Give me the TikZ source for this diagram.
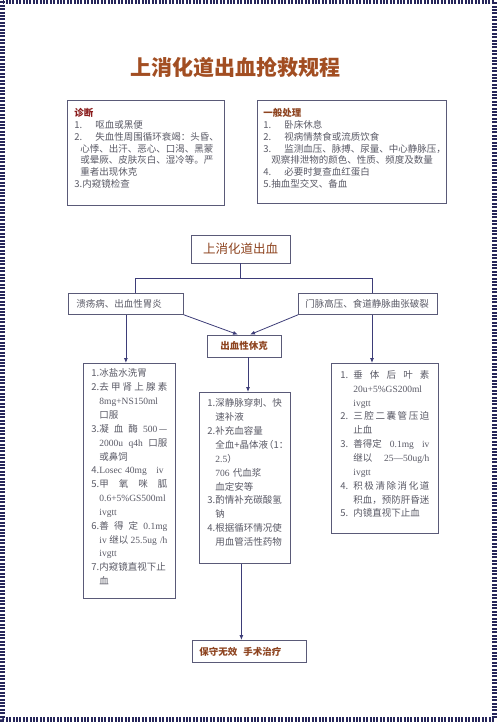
\documentclass[tikz,border=0pt]{standalone}
\usepackage{fontspec}
\setmainfont{Noto Sans CJK SC}
\newfontfamily\lat{Liberation Serif}
\usetikzlibrary{arrows.meta,positioning,shadows}
\definecolor{mnavy}{HTML}{3D3D78}
\definecolor{mframe}{HTML}{26265A}
\definecolor{mbox}{HTML}{5A5A78}
\definecolor{mbrown}{HTML}{8E4420}
\definecolor{mtitle}{HTML}{A24E22}
\definecolor{mred}{HTML}{8A1C1C}
\definecolor{ink}{HTML}{5A5A66}
\newcommand{\lineind}[1][8pt]{\hspace*{#1}}
\newcommand{\spreadline}[1]{\leavevmode\hbox to\linewidth{#1}}
\tikzset{
  every node/.style={font=\fontsize{9.5}{11.7}\selectfont, text=ink},
  blk/.style     ={draw=mbox, line width=0.8pt, fill=white,
                   drop shadow={shadow xshift=1pt, shadow yshift=-1pt, fill=mbox, opacity=0.7}},
  infobox/.style ={blk, anchor=north west, align=left, text height=9pt},
  listbox/.style ={infobox, font=\fontsize{9.5}{13.85}\selectfont},
  causebox/.style={blk, anchor=north west, align=left, minimum height=21pt},
  headbox/.style ={blk, minimum width=99pt, minimum height=28pt,
                   font=\fontsize{12.5}{14}\selectfont, text=mbrown},
  keybox/.style  ={blk, minimum height=22pt, font=\fontsize{9.5}{11}\selectfont\bfseries, text=mbrown},
  ttl/.style     ={font=\fontsize{21}{24}\selectfont\bfseries, text=mtitle},
  ln/.style      ={line width=0.8pt, draw=mnavy},
  ar/.style      ={ln, -{Latex[length=5pt,width=4pt]}},
  pageframe/.style={draw=mframe, line width=5pt, dash pattern=on 2pt off 1.4pt},
}

\begin{document}
\begin{tikzpicture}[x=1pt,y=-1pt]
\useasboundingbox (0,0) rectangle (500,725);
\draw[pageframe] (2.5,1.5) rectangle (494.5,719);

% ============ title ==========================================================
\node[ttl] (title) at (235.5,67) {上消化道出血抢救规程};

% ============ row 1: diagnosis / general care ================================
\node[infobox, text width=143pt, inner xsep=7pt, inner ysep=7.5pt, text depth=81pt] (diag) at (67,100) {%
  \textcolor{mred}{\bfseries 诊断}\\
  1.\kern13pt 呕血或黑便\\
  2.\kern13pt 失血性周围循环衰竭：头昏、\\
  \lineind[6pt]心悸、出汗、恶心、口渴、黑蒙\\
  \lineind[6pt]或晕厥、皮肤灰白、湿冷等。严\\
  \lineind[6pt]重者出现休克\\
  3.内窥镜检查};
\node[infobox, text width=177pt, inner xsep=6pt, inner ysep=7.5pt, text depth=79pt] (care) at (257,100) {%
  \textcolor{mbrown}{\bfseries 一般处理}\\
  1.\kern13pt 卧床休息\\
  2.\kern13pt 视病情禁食或流质饮食\\
  3.\kern13pt 监测血压、脉搏、尿量、中心静脉压，\\
  \lineind{}观察排泄物的颜色、性质、频度及数量\\
  4.\kern13pt 必要时复查血红蛋白\\
  5.抽血型交叉、备血};

% ============ row 2: bleeding and causes =====================================
\node[headbox] (bleed) at (240.5,249) {上消化道出血};
\node[causebox, text width=99pt, inner xsep=8pt] (ulcer) at (68,293) {溃疡病、出血性胃炎};
\node[causebox, text width=125pt, inner xsep=7pt] (varix) at (298,293) {门脉高压、食道静脉曲张破裂};
\node[keybox, minimum width=74pt] (shock) at (244,346) {出血性休克};

\coordinate (jl) at (135,278);
\coordinate (jr) at (372,278);
\draw[ln] (bleed.south) -- (bleed.south |- jl);
\draw[ln] (jl) -- (jr);
\draw[ln] (jl) -- (jl |- ulcer.north);
\draw[ln] (jr) -- (jr |- varix.north);
\draw[ar] (ulcer.south east) -- ([xshift=-6pt]shock.north);
\draw[ar] (varix.south west) -- ([xshift=6pt]shock.north);

% ============ row 3: treatment ===============================================
\node[listbox, text width=76pt, inner xsep=8pt, inner ysep=5pt, text height=8.5pt, text depth=216.5pt] (stop) at (83,363) {%
  1.冰盐水洗胃\\
  \spreadline{2.去\hfill 甲\hfill 肾\hfill 上\hfill 腺\hfill 素}\\
  \lineind{\lat 8mg+NS150ml}\\
  \lineind{}口服\\
  \spreadline{3.凝\hfill 血\hfill 酶\hfill {\lat 500}\,—}\\
  \spreadline{\hspace*{8pt}{\lat 2000u}\hfill {\lat q4h}\hfill 口服}\\
  \lineind{}或鼻饲\\
  4.{\lat Losec 40mg}\quad{\lat iv}\\
  \spreadline{5.甲\hfill 氧\hfill 咪\hfill 胍}\\
  \lineind{\lat 0.6+5\%GS500ml}\\
  \lineind{\lat ivgtt}\\
  \spreadline{6.善\hfill 得\hfill 定\hfill {\lat 0.1mg}}\\
  \spreadline{\hspace*{8pt}{\lat iv}\hfill 继以\hfill {\lat 25.5ug /h}}\\
  \lineind{\lat ivgtt}\\
  7.内窥镜直视下止\\
  \lineind{}血};
\node[listbox, text width=75pt, inner xsep=8pt, inner ysep=5pt, text height=9.5pt, text depth=151.5pt] (fluid) at (199,392) {%
  1.深静脉穿刺、快\\
  \lineind{}速补液\\
  2.补充血容量\\
  \lineind{}全血+晶体液\kern-4pt （1：\\
  \lineind{\lat 2.5}）\\
  \lineind{\lat 706} 代血浆\\
  \lineind{}血定安等\\
  3.酌情补充碳酸氢\\
  \lineind{}钠\\
  4.根据循环情况使\\
  \lineind{}用血管活性药物};
\node[listbox, text width=89pt, inner xsep=9pt, inner ysep=5pt, text height=10pt, text depth=150pt] (press) at (331,363) {%
  \spreadline{1.\kern5pt 垂\hfill 体\hfill 后\hfill 叶\hfill 素}\\
  \lineind[13pt]{\lat 20u+5\%GS200ml}\\
  \lineind[13pt]{\lat ivgtt}\\
  \spreadline{2.\kern5pt 三\hfill 腔\hfill 二\hfill 囊\hfill 管\hfill 压\hfill 迫}\\
  \lineind[13pt]止血\\
  \spreadline{3.\kern5pt 善得定\hfill {\lat 0.1mg}\hfill {\lat iv}}\\
  \spreadline{\hspace*{13pt}继以\hfill {\lat 25—50ug/h}}\\
  \lineind[13pt]{\lat ivgtt}\\
  \spreadline{4.\kern5pt 积\hfill 极\hfill 清\hfill 除\hfill 消\hfill 化\hfill 道}\\
  \lineind[13pt]积血，预防肝昏迷\\
  5.\kern5pt 内镜直视下止血};

\draw[ar] (ulcer.south) -- (ulcer.south |- stop.north);
\draw[ar] (jr |- varix.south) -- (jr |- press.north);
\draw[ar] ([xshift=4pt]shock.south) -- ([xshift=4pt]shock.south |- fluid.north);

% ============ row 4: surgery =================================================
\node[keybox, anchor=north west, align=left, text width=100pt, inner xsep=7pt] (surg) at (192,640) {保守无效\kern6pt 手术治疗};
\draw[ar] ([xshift=-3.5pt]fluid.south) -- ([xshift=-3.5pt]fluid.south |- surg.north);

\end{tikzpicture}
\end{document}
